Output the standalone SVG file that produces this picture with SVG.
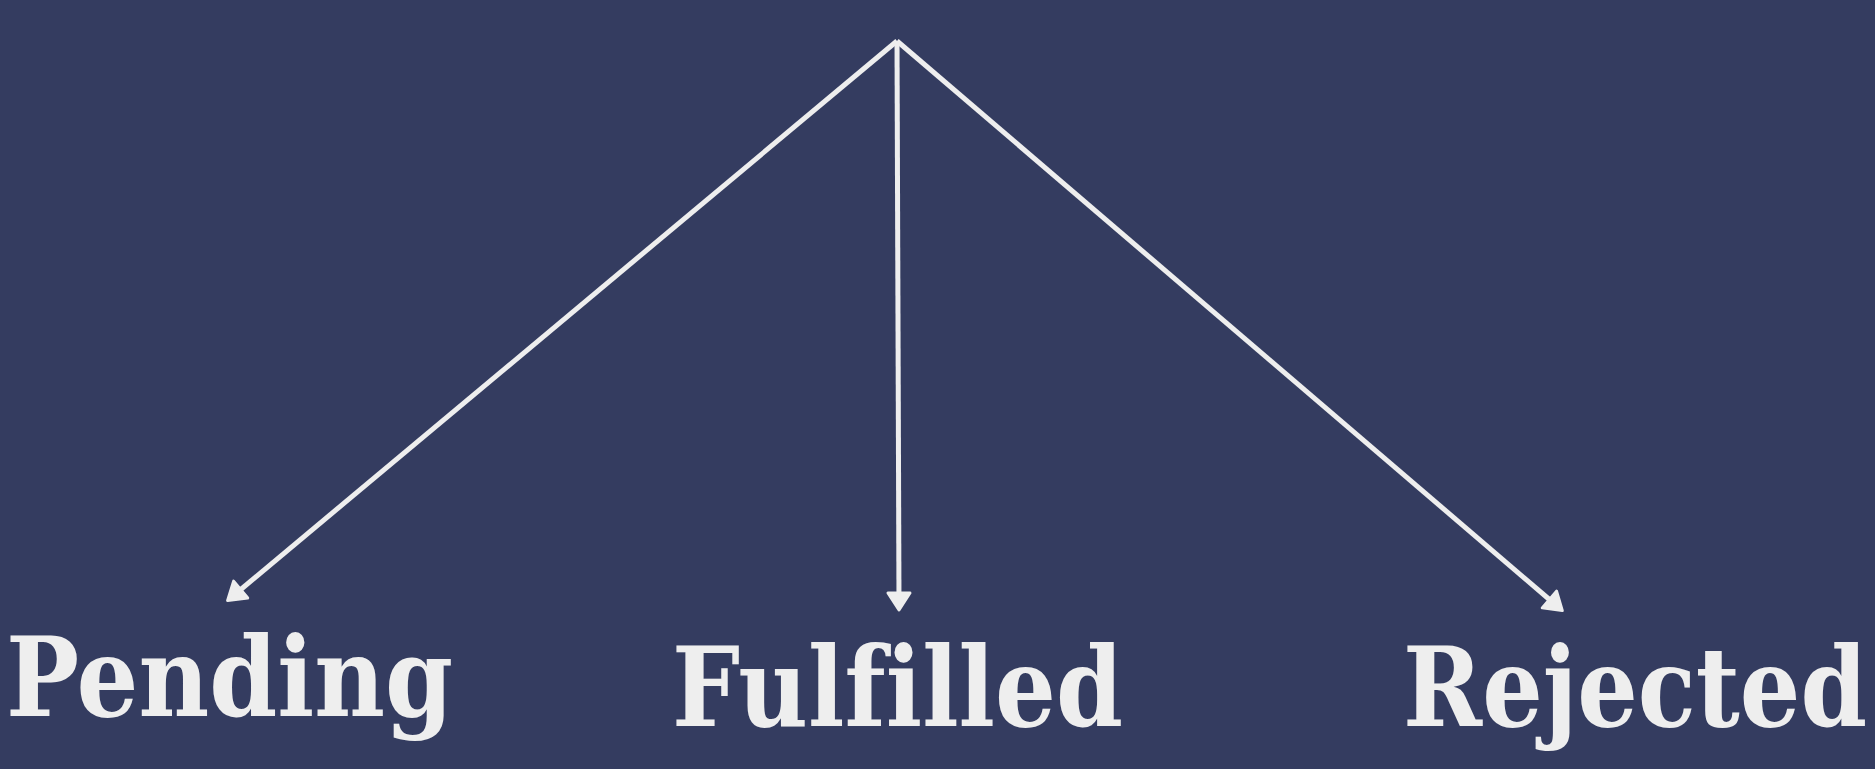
<svg xmlns="http://www.w3.org/2000/svg" width="1875" height="769" viewBox="0 0 1875 769">
  <style>
    .bg { fill: #343c60; }
    .conn { stroke: #eeeeee; stroke-width: 5; fill: none; }
    .label { font-family: "DejaVu Serif", "Liberation Serif", serif; font-weight: bold; font-size: 110px; fill: #eeeeee; font-variant-ligatures: none; font-feature-settings: "liga" 0; }
  </style>
  <defs>
    <marker id="arrow" markerUnits="userSpaceOnUse" markerWidth="40" markerHeight="40" viewBox="-5 -20 40 40" refX="10" refY="0" orient="auto">
      <path d="M0,-11 L17,0 L0,11 Z" fill="#eeeeee" stroke="#eeeeee" stroke-width="3" stroke-linejoin="round"/>
    </marker>
  </defs>
  <rect class="bg" x="0" y="0" width="1875" height="769"/>
  <g id="connectors">
    <line class="conn" x1="897" y1="41" x2="233" y2="596" marker-end="url(#arrow)"/>
    <line class="conn" x1="897" y1="41" x2="899" y2="603" marker-end="url(#arrow)"/>
    <line class="conn" x1="897" y1="41" x2="1557" y2="606" marker-end="url(#arrow)"/>
  </g>
  <g id="pending">
    <text class="label" x="6" y="716" textLength="447" lengthAdjust="spacingAndGlyphs">Pending</text>
  </g>
  <g id="fulfilled">
    <text class="label" x="672" y="726" textLength="451" lengthAdjust="spacingAndGlyphs">Fulfilled</text>
  </g>
  <g id="rejected">
    <text class="label" x="1867" y="726" text-anchor="end" textLength="464" lengthAdjust="spacingAndGlyphs">Rejected</text>
  </g>
</svg>
